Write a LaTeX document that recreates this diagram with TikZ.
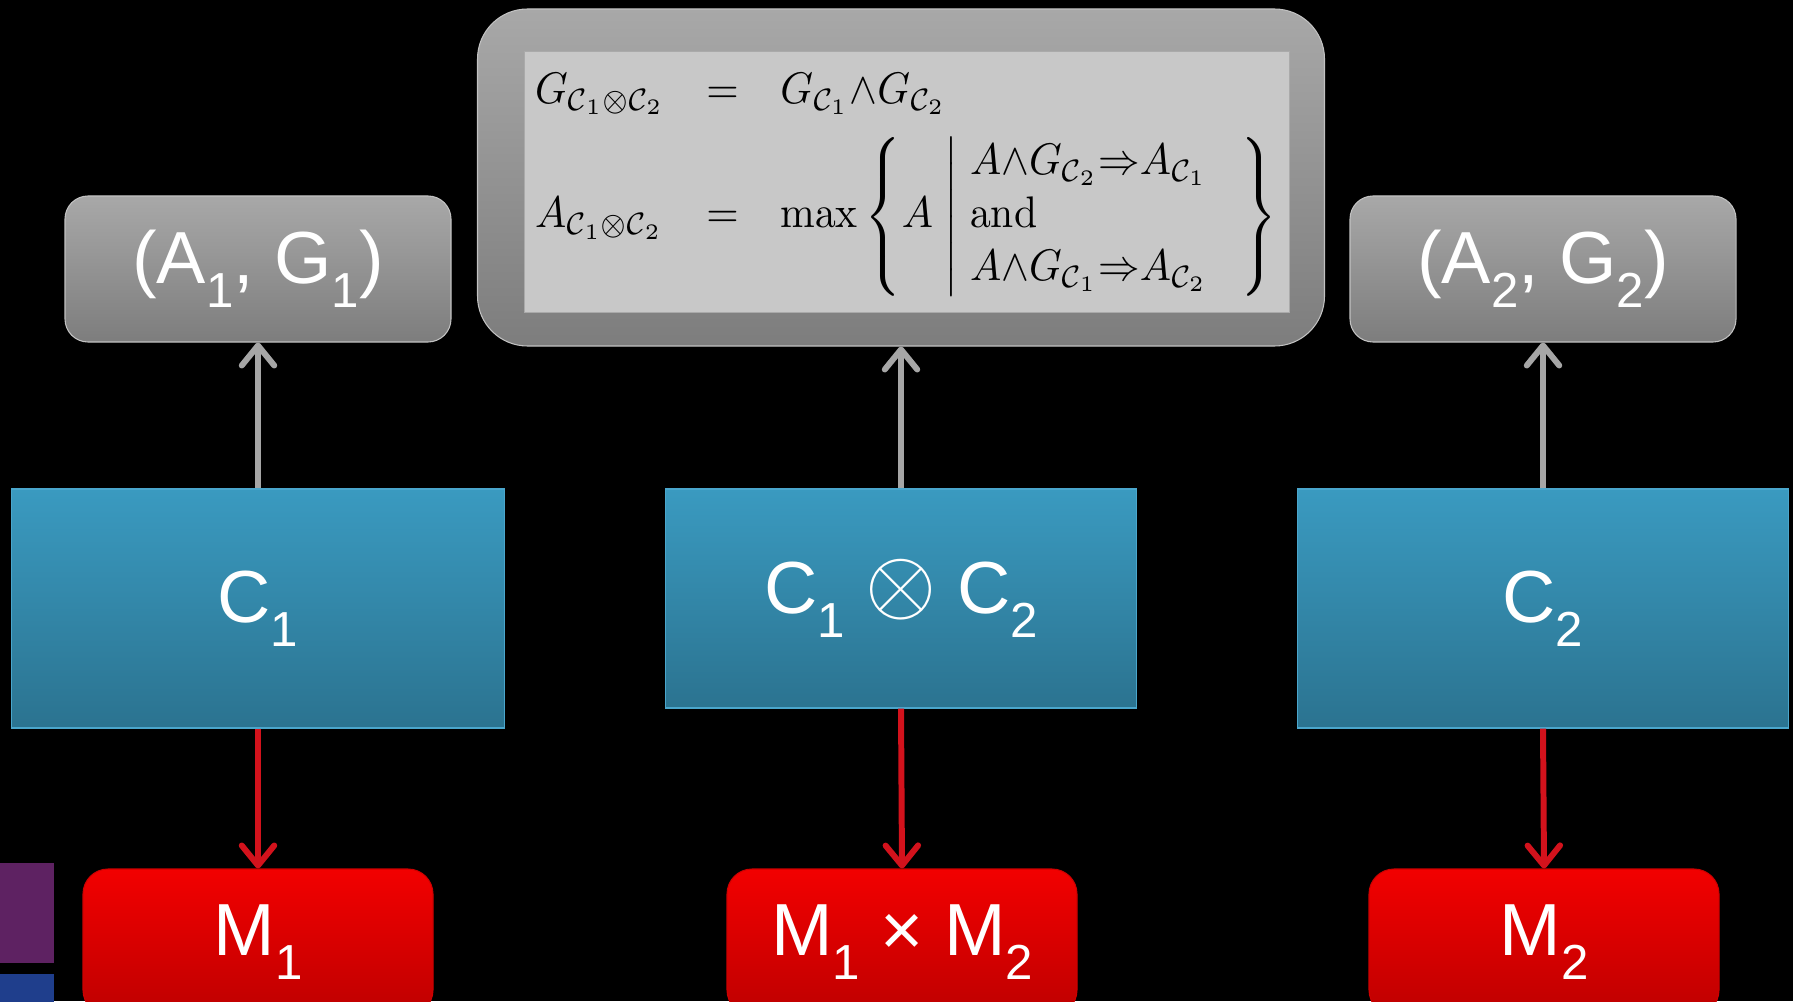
\documentclass[tikz,border=0pt]{standalone}
\usepackage{fontspec}
\usepackage{amsmath}
\usepackage{graphicx}
\newfontfamily\slidefont{Liberation Sans}
\usetikzlibrary{arrows.meta}
\definecolor{cGrisA}{HTML}{A8A8A8}
\definecolor{cGrisB}{HTML}{7D7D7D}
\definecolor{cPanel}{HTML}{C8C8C8}
\definecolor{cAzulA}{HTML}{3A9AC0}
\definecolor{cAzulB}{HTML}{2B7390}
\definecolor{cAzulL}{HTML}{4AA6CC}
\definecolor{cRojoA}{HTML}{F20000}
\definecolor{cRojoB}{HTML}{BE0000}
\definecolor{cFlechaG}{HTML}{A6A6A6}
\definecolor{cFlechaR}{HTML}{D3121C}
\definecolor{cMorado}{HTML}{5E2262}
\definecolor{cAzulO}{HTML}{1F3E8C}
\newcommand{\sidx}[1]{\raisebox{-0.33em}{\fontsize{28}{30}\selectfont #1}}

\begin{document}
\begin{tikzpicture}[
    x=1cm, y=1cm,
    txt/.style={font=\slidefont\fontsize{42}{48}\selectfont, text=white, inner sep=0pt},
    pareja/.style={txt, rounded corners=0.46cm, draw=cGrisA!70!white, line width=0.6pt,
                   top color=cGrisA, bottom color=cGrisB,
                   minimum width=7.72cm, minimum height=2.92cm},
    comp/.style={txt, draw=cAzulL, line width=0.8pt, top color=cAzulA, bottom color=cAzulB},
    modelo/.style={txt, rounded corners=0.5cm, draw=cRojoA!85!black, line width=0.6pt,
                   top color=cRojoA, bottom color=cRojoB,
                   minimum width=7cm, minimum height=2.92cm},
    sube/.style={-{Straight Barb[length=0.4cm, width=0.65cm, round]}, line width=3.4pt, cFlechaG},
    baja/.style={-{Straight Barb[length=0.4cm, width=0.65cm, round]}, line width=3.4pt, cFlechaR},
]

% ===================== Fondo =====================
\fill[black] (0,0) rectangle (35.86,20.02);
\useasboundingbox (0,0) rectangle (35.86,20.02);
\fill[cMorado] (0,0.76) rectangle (1.08,2.76);
\fill[cAzulO] (0,-0.2) rectangle (1.08,0.54);

% ===================== Fila superior =====================
\node[pareja] (par1) at (5.16,14.64) {(A\sidx{1}, G\sidx{1})};
\node[pareja] (par2) at (30.86,14.64) {(A\sidx{2}, G\sidx{2})};

\node[rounded corners=1cm, draw=cGrisA!70!white, line width=0.6pt,
      top color=cGrisA, bottom color=cGrisB,
      minimum width=16.94cm, minimum height=6.74cm] (form) at (18.02,16.47) {};
\node[fill=cPanel, draw=cPanel!85!black, line width=0.4pt, inner sep=0pt,
      minimum width=15.3cm, minimum height=5.22cm] (panel) at (18.13,16.39)
  {\resizebox*{14.85cm}{4.6cm}{$\begin{array}{@{}l@{\hspace{10pt}}c@{\hspace{10pt}}l@{}}
    G_{\mathcal{C}_1\otimes\mathcal{C}_2} & = & G_{\mathcal{C}_1}{\wedge}G_{\mathcal{C}_2}\\[4pt]
    A_{\mathcal{C}_1\otimes\mathcal{C}_2} & = & \max\left\{ A \;\middle|\;
      \begin{array}{@{}l@{}}
        A{\wedge}G_{\mathcal{C}_2}{\Rightarrow}A_{\mathcal{C}_1}\\
        \mathrm{and}\\
        A{\wedge}G_{\mathcal{C}_1}{\Rightarrow}A_{\mathcal{C}_2}
      \end{array}\hspace{8pt}\right\}
  \end{array}$}};

% ===================== Componentes =====================
\node[comp, minimum width=9.86cm, minimum height=4.78cm] (c1) at (5.16,7.85) {C\sidx{1}};
\node[comp, minimum width=9.42cm, minimum height=4.38cm] (c12) at (18.02,8.05)
  {C\sidx{1} \raisebox{0.5pt}{\scalebox{5.2}{\fontsize{10}{12}\selectfont$\otimes$}} C\sidx{2}};
\node[comp, minimum width=9.82cm, minimum height=4.78cm] (c2) at (30.86,7.85) {C\sidx{2}};

% ===================== Modelos =====================
\node[modelo] (m1) at (5.16,1.18) {M\sidx{1}};
\node[modelo] (m12) at (18.04,1.18) {M\sidx{1} \texttimes{} M\sidx{2}};
\node[modelo] (m2) at (30.88,1.18) {M\sidx{2}};

% ===================== Flechas =====================
\draw[sube] (c1.north) -- (par1.south);
\draw[sube] (c12.north) -- (form.south);
\draw[sube] (c2.north) -- (par2.south);

\draw[baja] (c1.south) -- (m1.north);
\draw[baja] (c12.south) -- (m12.north);
\draw[baja] (c2.south) -- (m2.north);

\end{tikzpicture}
\end{document}
